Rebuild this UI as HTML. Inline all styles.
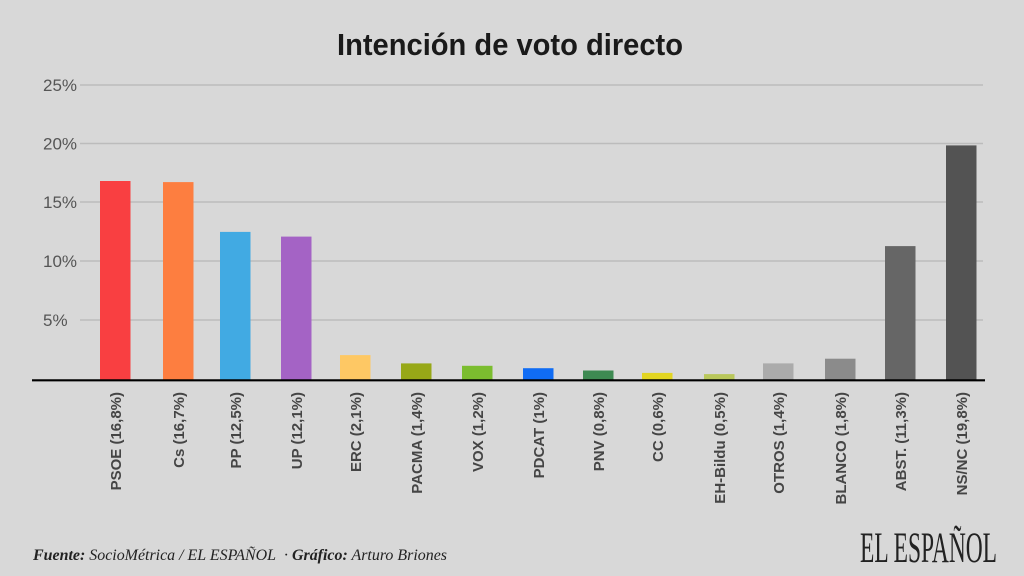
<!DOCTYPE html>
<html>
<head>
<meta charset="utf-8">
<style>
  html,body{margin:0;padding:0;background:#d8d8d8;}
  svg{display:block;}
</style>
</head>
<body>
<svg width="1024" height="576" viewBox="0 0 1024 576" xmlns="http://www.w3.org/2000/svg">
  <rect x="0" y="0" width="1024" height="576" fill="#d8d8d8"/>
  <!-- Title -->
  <text x="337" y="55" font-family="Liberation Sans, sans-serif" font-weight="bold" font-size="31" fill="#1a1a1a" textLength="346" lengthAdjust="spacingAndGlyphs">Intención de voto directo</text>

  <!-- Gridlines -->
  <g stroke="#bcbcbc" stroke-width="1.5">
    <line x1="80" y1="85" x2="983" y2="85"/>
    <line x1="80" y1="143.5" x2="983" y2="143.5"/>
    <line x1="80" y1="202" x2="983" y2="202"/>
    <line x1="80" y1="261" x2="983" y2="261"/>
    <line x1="80" y1="320" x2="983" y2="320"/>
  </g>
  <!-- Y labels -->
  <g font-family="Liberation Sans, sans-serif" font-size="17" fill="#555">
    <text x="43" y="91">25%</text>
    <text x="43" y="149.5">20%</text>
    <text x="43" y="208">15%</text>
    <text x="43" y="267">10%</text>
    <text x="43" y="326">5%</text>
  </g>

  <!-- Bars -->
  <rect x="100" y="181" width="30.5" height="199" fill="#f93f41"/>
  <rect x="163" y="182.1" width="30.5" height="197.9" fill="#fd7e40"/>
  <rect x="220" y="231.9" width="30.5" height="148.1" fill="#41aae3"/>
  <rect x="281" y="236.6" width="30.5" height="143.4" fill="#a463c5"/>
  <rect x="340" y="355.1" width="30.5" height="24.9" fill="#fec864"/>
  <rect x="401" y="363.4" width="30.5" height="16.6" fill="#97a817"/>
  <rect x="462" y="365.8" width="30.5" height="14.2" fill="#7bbd2f"/>
  <rect x="523" y="368.2" width="30.5" height="11.8" fill="#106cf4"/>
  <rect x="583" y="370.5" width="30.5" height="9.5" fill="#3e8a52"/>
  <rect x="642" y="372.9" width="30.5" height="7.1" fill="#e2d522"/>
  <rect x="704" y="374.1" width="30.5" height="5.9" fill="#b9c75b"/>
  <rect x="763" y="363.4" width="30.5" height="16.6" fill="#ababab"/>
  <rect x="825" y="358.7" width="30.5" height="21.3" fill="#8b8b8b"/>
  <rect x="885" y="246.1" width="30.5" height="133.9" fill="#666666"/>
  <rect x="946" y="145.4" width="30.5" height="234.6" fill="#535353"/>

  <!-- Baseline -->
  <line x1="32" y1="380.3" x2="985" y2="380.3" stroke="#000" stroke-width="2.2"/>

  <!-- X labels -->
  <g font-family="Liberation Sans, sans-serif" font-size="15" font-weight="bold" fill="#454545" text-anchor="end">
    <text transform="translate(121,392) rotate(-90)">PSOE (16,8%)</text>
    <text transform="translate(184,392) rotate(-90)">Cs (16,7%)</text>
    <text transform="translate(241,392) rotate(-90)">PP (12,5%)</text>
    <text transform="translate(302,392) rotate(-90)">UP (12,1%)</text>
    <text transform="translate(361,392) rotate(-90)">ERC (2,1%)</text>
    <text transform="translate(422,392) rotate(-90)">PACMA (1,4%)</text>
    <text transform="translate(483,392) rotate(-90)">VOX (1,2%)</text>
    <text transform="translate(544,392) rotate(-90)">PDCAT (1%)</text>
    <text transform="translate(604,392) rotate(-90)">PNV (0,8%)</text>
    <text transform="translate(663,392) rotate(-90)">CC (0,6%)</text>
    <text transform="translate(725,392) rotate(-90)">EH-Bildu (0,5%)</text>
    <text transform="translate(784,392) rotate(-90)">OTROS (1,4%)</text>
    <text transform="translate(846,392) rotate(-90)">BLANCO (1,8%)</text>
    <text transform="translate(906,392) rotate(-90)">ABST. (11,3%)</text>
    <text transform="translate(967,392) rotate(-90)">NS/NC (19,8%)</text>
  </g>

  <!-- Footer -->
  <text x="33" y="560" font-family="Liberation Serif, serif" font-style="italic" font-size="16" fill="#222" textLength="414" lengthAdjust="spacingAndGlyphs"><tspan font-weight="bold">Fuente:</tspan> SocioMétrica / EL ESPAÑOL&#160; · <tspan font-weight="bold">Gráfico:</tspan> Arturo Briones</text>

  <!-- Logo -->
  <text x="860" y="562" font-family="Liberation Serif, serif" font-size="43" fill="#222" textLength="137" lengthAdjust="spacingAndGlyphs">EL ESPAÑOL</text>
</svg>
</body>
</html>
